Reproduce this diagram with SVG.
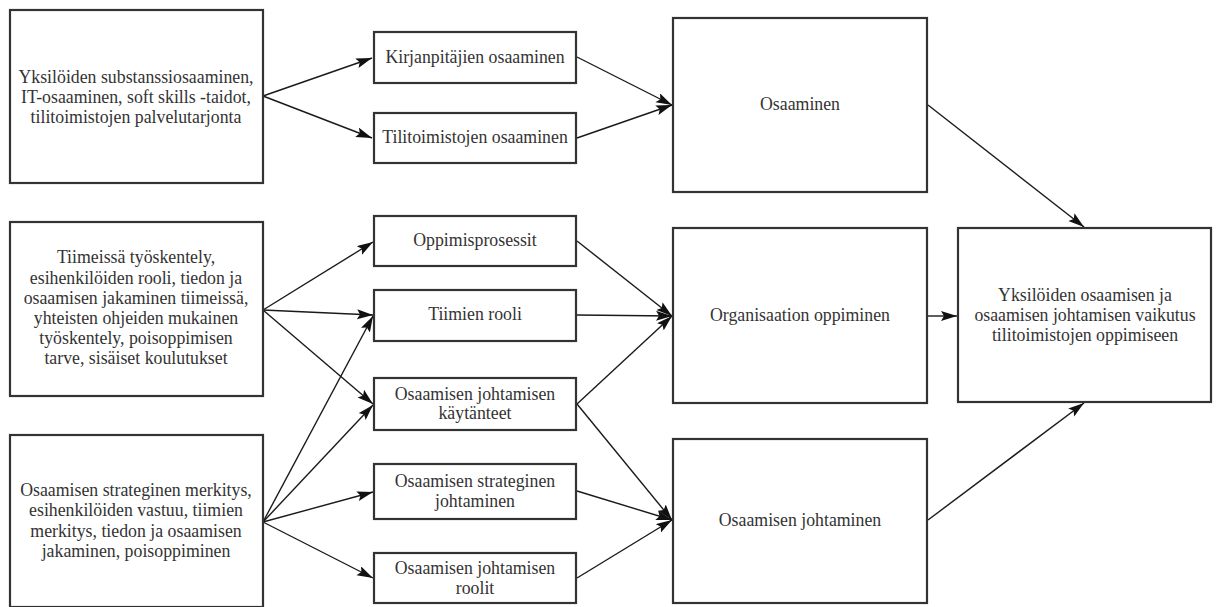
<svg xmlns="http://www.w3.org/2000/svg" width="1216" height="607" viewBox="0 0 1216 607">
<defs>
<style>
.box{fill:#fff;stroke:#333;stroke-width:2.2}
.t{font-family:'Liberation Serif','Tinos','DejaVu Serif',serif;font-size:17.8px;fill:#333;text-anchor:middle}
.c{fill:none;stroke:#1a1a1a;stroke-width:1.4;marker-end:url(#ah)}
</style>
<marker id="ah" markerUnits="userSpaceOnUse" markerWidth="18" markerHeight="12" refX="16" refY="5" orient="auto">
<path d="M0,0 L16,5 L0,10 L3,5 z" fill="#111"/>
</marker>
</defs>
<rect width="1216" height="607" fill="#fff"/>
<g id="connectors">
<line class="c" x1="263" y1="96" x2="372" y2="58"/>
<line class="c" x1="263" y1="96" x2="372" y2="138"/>
<line class="c" x1="577" y1="57" x2="672" y2="105"/>
<line class="c" x1="577" y1="138" x2="672" y2="105"/>
<line class="c" x1="928" y1="105" x2="1084" y2="227"/>
<line class="c" x1="263" y1="310" x2="373" y2="242"/>
<line class="c" x1="263" y1="310" x2="373" y2="315"/>
<line class="c" x1="263" y1="310" x2="373" y2="404"/>
<line class="c" x1="263" y1="522" x2="373" y2="316"/>
<line class="c" x1="263" y1="522" x2="373" y2="405"/>
<line class="c" x1="263" y1="522" x2="373" y2="492"/>
<line class="c" x1="263" y1="522" x2="373" y2="578"/>
<line class="c" x1="577" y1="241" x2="672" y2="316"/>
<line class="c" x1="577" y1="315" x2="672" y2="316"/>
<line class="c" x1="577" y1="404" x2="672" y2="316"/>
<line class="c" x1="577" y1="404" x2="672" y2="520"/>
<line class="c" x1="577" y1="491" x2="672" y2="520"/>
<line class="c" x1="577" y1="578" x2="672" y2="520"/>
<line class="c" x1="928" y1="316" x2="957" y2="316"/>
<line class="c" x1="928" y1="520" x2="1084" y2="403"/>
</g>
<g id="n1"><rect class="box" x="10" y="10" width="253" height="173"/>
<text class="t" x="136" y="83">Yksilöiden substanssiosaaminen,</text>
<text class="t" x="136" y="103">IT-osaaminen, soft skills -taidot,</text>
<text class="t" x="136" y="123">tilitoimistojen palvelutarjonta</text></g>
<g id="n2"><rect class="box" x="10" y="222" width="253" height="174"/>
<text class="t" x="136" y="263">Tiimeissä työskentely,</text>
<text class="t" x="136" y="284">esihenkilöiden rooli, tiedon ja</text>
<text class="t" x="136" y="304">osaamisen jakaminen tiimeissä,</text>
<text class="t" x="136" y="324">yhteisten ohjeiden mukainen</text>
<text class="t" x="136" y="344">työskentely, poisoppimisen</text>
<text class="t" x="136" y="364">tarve, sisäiset koulutukset</text></g>
<g id="n3"><rect class="box" x="10" y="435" width="253" height="172"/>
<text class="t" x="136" y="496">Osaamisen strateginen merkitys,</text>
<text class="t" x="136" y="516">esihenkilöiden vastuu, tiimien</text>
<text class="t" x="136" y="537">merkitys, tiedon ja osaamisen</text>
<text class="t" x="136" y="557">jakaminen, poisoppiminen</text></g>
<g id="n4"><rect class="box" x="374" y="32" width="202" height="51"/>
<text class="t" x="475" y="63">Kirjanpitäjien osaaminen</text></g>
<g id="n5"><rect class="box" x="374" y="113" width="202" height="50"/>
<text class="t" x="475" y="143">Tilitoimistojen osaaminen</text></g>
<g id="n6"><rect class="box" x="374" y="216" width="202" height="50"/>
<text class="t" x="475" y="246">Oppimisprosessit</text></g>
<g id="n7"><rect class="box" x="374" y="290" width="202" height="51"/>
<text class="t" x="475" y="320">Tiimien rooli</text></g>
<g id="n8"><rect class="box" x="374" y="378" width="202" height="52"/>
<text class="t" x="475" y="400">Osaamisen johtamisen</text>
<text class="t" x="475" y="419">käytänteet</text></g>
<g id="n9"><rect class="box" x="374" y="464" width="202" height="55"/>
<text class="t" x="475" y="487">Osaamisen strateginen</text>
<text class="t" x="475" y="507">johtaminen</text></g>
<g id="n10"><rect class="box" x="374" y="553" width="202" height="50"/>
<text class="t" x="475" y="574">Osaamisen johtamisen</text>
<text class="t" x="475" y="594">roolit</text></g>
<g id="n11"><rect class="box" x="673" y="18" width="254" height="174"/>
<text class="t" x="800" y="110">Osaaminen</text></g>
<g id="n12"><rect class="box" x="673" y="228" width="254" height="175"/>
<text class="t" x="800" y="321">Organisaation oppiminen</text></g>
<g id="n13"><rect class="box" x="673" y="439" width="254" height="164"/>
<text class="t" x="800" y="526">Osaamisen johtaminen</text></g>
<g id="n14"><rect class="box" x="958" y="228" width="253" height="174"/>
<text class="t" x="1085" y="301">Yksilöiden osaamisen ja</text>
<text class="t" x="1085" y="321">osaamisen johtamisen vaikutus</text>
<text class="t" x="1085" y="341">tilitoimistojen oppimiseen</text></g>
</svg>
